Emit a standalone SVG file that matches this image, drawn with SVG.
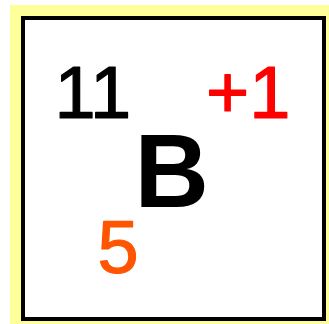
<svg xmlns="http://www.w3.org/2000/svg" width="329" height="324" viewBox="0 0 329 324">
<style>
.t{font-family:"Liberation Sans",Arial,sans-serif;}
.num{font-size:74px;stroke-width:1.2px;stroke-linejoin:round;}
</style>
<rect id="background" x="10" y="5" width="319" height="319" fill="#FFFF99"/>
<g id="node-B">
<rect x="23" y="18" width="301" height="301" fill="#FFFFFF" stroke="#000000" stroke-width="4"/>
<text class="t num" x="54.4" y="118" fill="#000000" stroke="#000000">11</text>
<text class="t num" x="206" y="118" fill="#FF0000" stroke="#FF0000">+1</text>
<text class="t" x="134.5" y="207" font-size="103" font-weight="bold" fill="#000000">B</text>
<text class="t num" x="97.5" y="272.5" fill="#FF5500" stroke="#FF5500">5</text>
</g>
</svg>
